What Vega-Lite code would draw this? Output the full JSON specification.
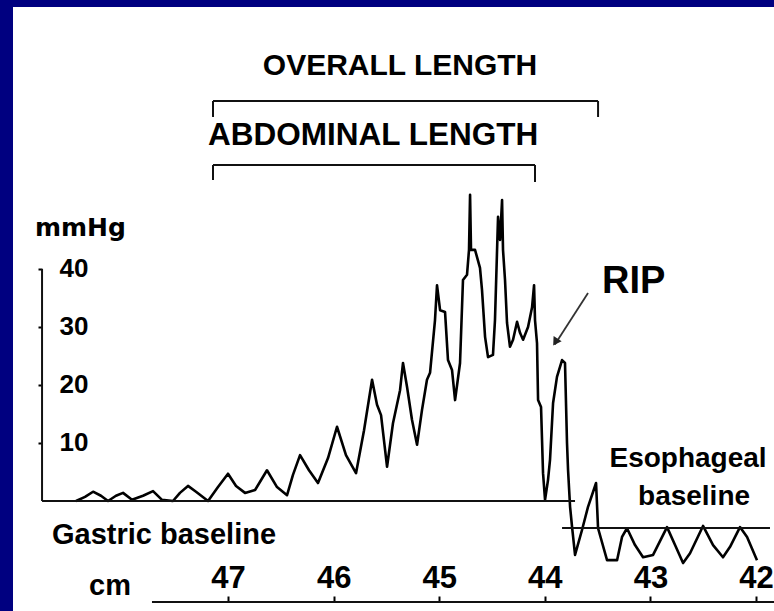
{
  "$schema": "https://vega.github.io/schema/vega-lite/v6.json",
  "width": 761,
  "height": 604,
  "autosize": {"type": "none"},
  "padding": {"left": 13, "top": 7, "right": 0, "bottom": 0},
  "background": "#000080",
  "config": {
    "view": {"fill": "white", "stroke": null},
    "text": {"font": "Liberation Sans", "fontWeight": "bold", "color": "black"}
  },
  "datasets": {
    "trace": [
      {"i": 1, "cm": 48.439, "p": 0}, {"i": 2, "cm": 48.354, "p": 0.7}, {"i": 3, "cm": 48.278, "p": 1.6},
      {"i": 4, "cm": 48.203, "p": 0.9}, {"i": 5, "cm": 48.136, "p": 0}, {"i": 6, "cm": 48.061, "p": 0.9},
      {"i": 7, "cm": 47.994, "p": 1.4}, {"i": 8, "cm": 47.909, "p": 0.2}, {"i": 9, "cm": 47.805, "p": 0.9},
      {"i": 10, "cm": 47.71, "p": 1.7}, {"i": 11, "cm": 47.625, "p": 0.2}, {"i": 12, "cm": 47.521, "p": 0},
      {"i": 13, "cm": 47.455, "p": 1.4}, {"i": 14, "cm": 47.379, "p": 2.6}, {"i": 15, "cm": 47.303, "p": 1.6},
      {"i": 16, "cm": 47.189, "p": 0}, {"i": 17, "cm": 47.095, "p": 2.4}, {"i": 18, "cm": 47.0, "p": 4.7},
      {"i": 19, "cm": 46.924, "p": 2.6}, {"i": 20, "cm": 46.839, "p": 1.4}, {"i": 21, "cm": 46.744, "p": 1.9},
      {"i": 22, "cm": 46.631, "p": 5.3}, {"i": 23, "cm": 46.536, "p": 2.4}, {"i": 24, "cm": 46.441, "p": 1.0},
      {"i": 25, "cm": 46.385, "p": 4.5}, {"i": 26, "cm": 46.318, "p": 7.9}, {"i": 27, "cm": 46.233, "p": 5.3},
      {"i": 28, "cm": 46.148, "p": 3.1}, {"i": 29, "cm": 46.053, "p": 7.4}, {"i": 30, "cm": 45.968, "p": 12.8},
      {"i": 31, "cm": 45.883, "p": 7.9}, {"i": 32, "cm": 45.788, "p": 4.8}, {"i": 33, "cm": 45.712, "p": 12.2},
      {"i": 34, "cm": 45.636, "p": 20.9}, {"i": 35, "cm": 45.589, "p": 16.6}, {"i": 36, "cm": 45.551, "p": 14.8},
      {"i": 37, "cm": 45.494, "p": 5.9}, {"i": 38, "cm": 45.438, "p": 13.4}, {"i": 39, "cm": 45.371, "p": 19.1},
      {"i": 40, "cm": 45.343, "p": 23.8}, {"i": 41, "cm": 45.305, "p": 19.7}, {"i": 42, "cm": 45.258, "p": 14.0},
      {"i": 43, "cm": 45.21, "p": 9.7}, {"i": 44, "cm": 45.163, "p": 15.7}, {"i": 45, "cm": 45.116, "p": 20.9},
      {"i": 46, "cm": 45.087, "p": 22.1}, {"i": 47, "cm": 45.04, "p": 31.2}, {"i": 48, "cm": 45.021, "p": 37.2},
      {"i": 49, "cm": 44.992, "p": 32.9}, {"i": 50, "cm": 44.945, "p": 32.6}, {"i": 51, "cm": 44.917, "p": 24.3},
      {"i": 52, "cm": 44.879, "p": 22.6}, {"i": 53, "cm": 44.85, "p": 17.4}, {"i": 54, "cm": 44.803, "p": 23.8},
      {"i": 55, "cm": 44.775, "p": 38.1}, {"i": 56, "cm": 44.737, "p": 39.0}, {"i": 57, "cm": 44.718, "p": 43.3},
      {"i": 58, "cm": 44.708, "p": 52.8}, {"i": 59, "cm": 44.699, "p": 43.3}, {"i": 60, "cm": 44.661, "p": 43.3},
      {"i": 61, "cm": 44.614, "p": 40.2}, {"i": 62, "cm": 44.595, "p": 36.4}, {"i": 63, "cm": 44.566, "p": 28.3},
      {"i": 64, "cm": 44.538, "p": 24.8}, {"i": 65, "cm": 44.491, "p": 25.2}, {"i": 66, "cm": 44.472, "p": 31.2},
      {"i": 67, "cm": 44.443, "p": 49.0}, {"i": 68, "cm": 44.424, "p": 45.0}, {"i": 69, "cm": 44.405, "p": 51.9},
      {"i": 70, "cm": 44.396, "p": 43.3}, {"i": 71, "cm": 44.377, "p": 38.1}, {"i": 72, "cm": 44.358, "p": 30.7},
      {"i": 73, "cm": 44.33, "p": 26.6}, {"i": 74, "cm": 44.301, "p": 27.8}, {"i": 75, "cm": 44.263, "p": 30.9},
      {"i": 76, "cm": 44.235, "p": 29.0}, {"i": 77, "cm": 44.206, "p": 27.8}, {"i": 78, "cm": 44.159, "p": 30.0},
      {"i": 79, "cm": 44.121, "p": 33.4}, {"i": 80, "cm": 44.102, "p": 37.2}, {"i": 81, "cm": 44.093, "p": 31.2},
      {"i": 82, "cm": 44.074, "p": 27.2}, {"i": 83, "cm": 44.064, "p": 17.4}, {"i": 84, "cm": 44.036, "p": 16.2},
      {"i": 85, "cm": 44.017, "p": 4.8}, {"i": 86, "cm": 43.998, "p": 0.2}, {"i": 87, "cm": 43.97, "p": 3.6},
      {"i": 88, "cm": 43.951, "p": 7.1}, {"i": 89, "cm": 43.922, "p": 16.9}, {"i": 90, "cm": 43.885, "p": 21.4},
      {"i": 91, "cm": 43.837, "p": 24.3}, {"i": 92, "cm": 43.809, "p": 23.8}, {"i": 93, "cm": 43.79, "p": 10.0},
      {"i": 94, "cm": 43.78, "p": 5.3}, {"i": 95, "cm": 43.761, "p": -1.0}, {"i": 96, "cm": 43.742, "p": -4.5},
      {"i": 97, "cm": 43.714, "p": -9.3}, {"i": 98, "cm": 43.648, "p": -5.0}, {"i": 99, "cm": 43.591, "p": -1.0},
      {"i": 100, "cm": 43.515, "p": 3.1}, {"i": 101, "cm": 43.496, "p": -4.7}, {"i": 102, "cm": 43.411, "p": -10.2},
      {"i": 103, "cm": 43.316, "p": -10.2}, {"i": 104, "cm": 43.269, "p": -6.2}, {"i": 105, "cm": 43.222, "p": -4.7},
      {"i": 106, "cm": 43.146, "p": -7.6}, {"i": 107, "cm": 43.07, "p": -9.7}, {"i": 108, "cm": 42.975, "p": -9.3},
      {"i": 109, "cm": 42.843, "p": -4.5}, {"i": 110, "cm": 42.767, "p": -7.6}, {"i": 111, "cm": 42.691, "p": -10.7},
      {"i": 112, "cm": 42.625, "p": -9.0}, {"i": 113, "cm": 42.502, "p": -4.3}, {"i": 114, "cm": 42.407, "p": -7.6},
      {"i": 115, "cm": 42.313, "p": -9.7}, {"i": 116, "cm": 42.246, "p": -7.9}, {"i": 117, "cm": 42.152, "p": -4.5},
      {"i": 118, "cm": 42.085, "p": -6.2}, {"i": 119, "cm": 41.991, "p": -10.2}
    ],
    "lines": [
      {"name": "y axis", "cm": 48.761, "cm2": 48.761, "p": 0, "p2": 40},
      {"name": "x axis", "cm": 47.72, "cm2": 41.83, "p": -17.41, "p2": -17.41},
      {"name": "gastric baseline", "cm": 48.761, "cm2": 43.714, "p": 0, "p2": 0},
      {"name": "esophageal baseline", "cm": 43.837, "cm2": 41.868, "p": -4.66, "p2": -4.66},
      {"name": "overall", "cm": 47.142, "cm2": 43.496, "p": 68.97, "p2": 68.97},
      {"name": "overall left", "cm": 47.142, "cm2": 47.142, "p": 68.97, "p2": 66.21},
      {"name": "overall right", "cm": 43.496, "cm2": 43.496, "p": 68.97, "p2": 66.21},
      {"name": "abdominal", "cm": 47.142, "cm2": 44.093, "p": 57.93, "p2": 57.93},
      {"name": "abdominal left", "cm": 47.142, "cm2": 47.142, "p": 57.93, "p2": 55.34},
      {"name": "abdominal right", "cm": 44.093, "cm2": 44.093, "p": 57.93, "p2": 55.0}
    ]
  },
  "layer": [
    {
      "data": {"name": "trace"},
      "mark": {"type": "line", "color": "black", "strokeWidth": 2.6, "strokeJoin": "round"},
      "encoding": {
        "x": {
          "field": "cm", "type": "quantitative",
          "scale": {"domain": [41.83, 49.036], "reverse": true, "nice": false, "zero": false},
          "axis": {
            "orient": "top", "offset": -595, "values": [47, 46, 45, 44, 43, 42], "format": "d",
            "domain": false, "grid": false, "title": null,
            "ticks": true, "tickSize": 6, "tickWidth": 2, "tickColor": "black",
            "labelPadding": 2, "labelFont": "Liberation Sans", "labelFontWeight": "bold",
            "labelFontSize": 31, "labelColor": "black", "labelFlush": false, "labelOverlap": false
          }
        },
        "y": {
          "field": "p", "type": "quantitative",
          "scale": {"domain": [-18.966, 85.172], "nice": false, "zero": false},
          "axis": {
            "orient": "left", "offset": -29, "values": [10, 20, 30, 40],
            "domain": false, "grid": false, "title": null,
            "ticks": true, "tickSize": 4, "tickWidth": 2, "tickColor": "black",
            "labelAlign": "left", "labelBaseline": "middle", "labelPadding": -21,
            "labelFont": "Liberation Sans", "labelFontWeight": "bold", "labelFontSize": 26,
            "labelColor": "black", "labelFlush": false, "labelOverlap": false
          }
        },
        "order": {"field": "i", "type": "quantitative"}
      }
    },
    {
      "data": {"name": "lines"},
      "mark": {"type": "rule", "color": "#111", "strokeWidth": 2},
      "encoding": {
        "x": {"field": "cm", "type": "quantitative"},
        "x2": {"field": "cm2"},
        "y": {"field": "p", "type": "quantitative"},
        "y2": {"field": "p2"}
      }
    },
    {
      "data": {"values": [{"cm": 43.591, "cm2": 43.905, "p": 35.86, "p2": 27.0}]},
      "mark": {"type": "rule", "color": "#333", "strokeWidth": 1.8},
      "encoding": {
        "x": {"field": "cm", "type": "quantitative"},
        "x2": {"field": "cm2"},
        "y": {"field": "p", "type": "quantitative"},
        "y2": {"field": "p2"}
      }
    },
    {
      "data": {"values": [{"cm": 43.9, "p": 27.4}]},
      "mark": {"type": "point", "shape": "triangle-up", "filled": true, "color": "#222", "size": 90, "angle": 212.5, "opacity": 1},
      "encoding": {
        "x": {"field": "cm", "type": "quantitative"},
        "y": {"field": "p", "type": "quantitative"}
      }
    },
    {
      "data": {"values": [{"label": "OVERALL LENGTH", "cm": 45.371, "p": 73.45}]},
      "mark": {"type": "text", "fontSize": 30, "align": "center", "baseline": "alphabetic"},
      "encoding": {
        "x": {"field": "cm", "type": "quantitative"},
        "y": {"field": "p", "type": "quantitative"},
        "text": {"field": "label"}
      }
    },
    {
      "data": {"values": [{"label": "ABDOMINAL LENGTH", "cm": 47.189, "p": 61.38}]},
      "mark": {"type": "text", "fontSize": 31.5, "align": "left", "baseline": "alphabetic"},
      "encoding": {
        "x": {"field": "cm", "type": "quantitative"},
        "y": {"field": "p", "type": "quantitative"},
        "text": {"field": "label"}
      }
    },
    {
      "data": {"values": [{"label": "mmHg", "cm": 48.828, "p": 45.69}]},
      "mark": {"type": "text", "font": "DejaVu Sans", "fontSize": 25, "align": "left", "baseline": "alphabetic"},
      "encoding": {
        "x": {"field": "cm", "type": "quantitative"},
        "y": {"field": "p", "type": "quantitative"},
        "text": {"field": "label"}
      }
    },
    {
      "data": {"values": [{"label": "RIP", "cm": 43.458, "p": 35.86}]},
      "mark": {"type": "text", "fontSize": 38, "align": "left", "baseline": "alphabetic"},
      "encoding": {
        "x": {"field": "cm", "type": "quantitative"},
        "y": {"field": "p", "type": "quantitative"},
        "text": {"field": "label"}
      }
    },
    {
      "data": {"values": [
        {"label": "Esophageal", "cm": 42.644, "p": 5.86},
        {"label": "baseline", "cm": 42.587, "p": -0.69}
      ]},
      "mark": {"type": "text", "fontSize": 28, "align": "center", "baseline": "alphabetic"},
      "encoding": {
        "x": {"field": "cm", "type": "quantitative"},
        "y": {"field": "p", "type": "quantitative"},
        "text": {"field": "label"}
      }
    },
    {
      "data": {"values": [
        {"label": "Gastric baseline", "cm": 48.667, "p": -7.41},
        {"label": "cm", "cm": 48.316, "p": -16.21}
      ]},
      "mark": {"type": "text", "fontSize": 29, "align": "left", "baseline": "alphabetic"},
      "encoding": {
        "x": {"field": "cm", "type": "quantitative"},
        "y": {"field": "p", "type": "quantitative"},
        "text": {"field": "label"}
      }
    }
  ]
}
